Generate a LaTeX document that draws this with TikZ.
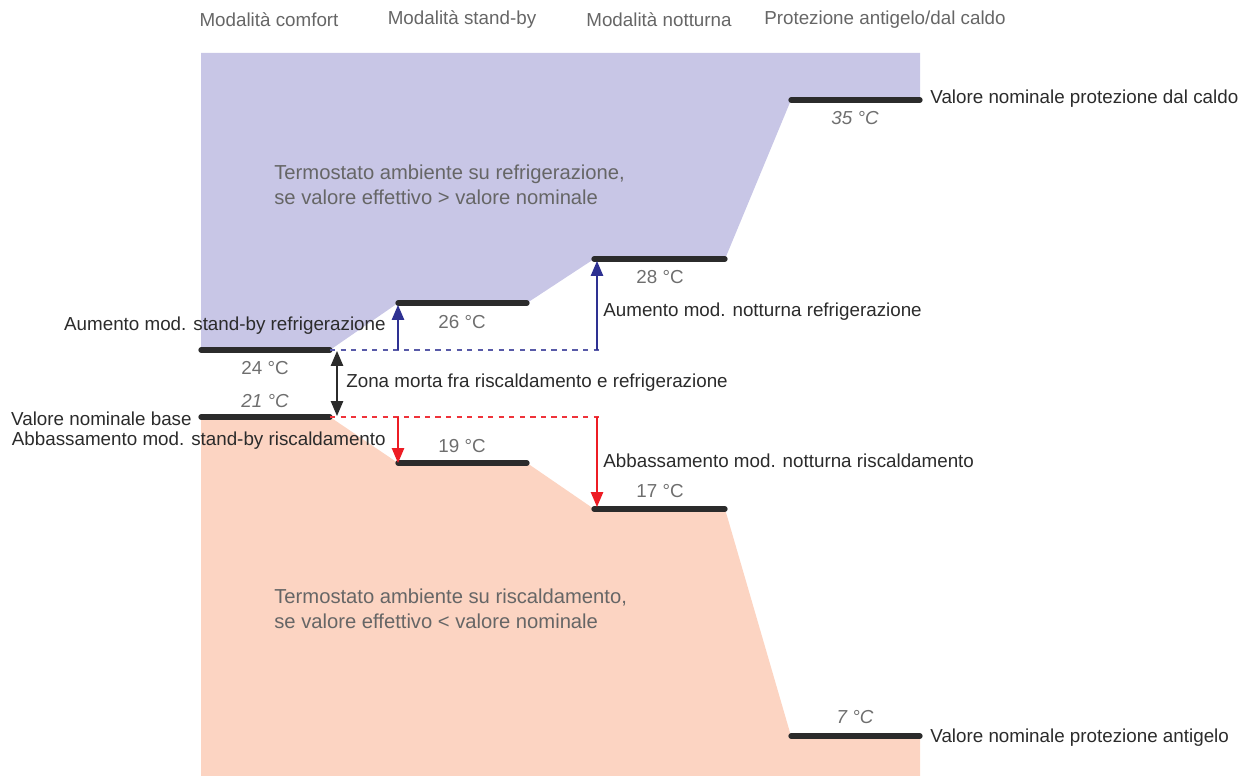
\documentclass[tikz,border=0pt]{standalone}
\usepackage{fontspec}
\setmainfont{Liberation Sans}
\usetikzlibrary{arrows.meta}
\definecolor{coolfill}{HTML}{C8C6E6}
\definecolor{heatfill}{HTML}{FCD4C2}
\definecolor{coolline}{HTML}{2E3192}
\definecolor{heatline}{HTML}{ED1C24}
\definecolor{barcol}{HTML}{2B2B2B}
\definecolor{tempcol}{HTML}{6E6E6E}
\definecolor{headcol}{HTML}{666666}

\begin{document}
\begin{tikzpicture}[x=0.02cm,y=-0.02cm]
\tikzstyle{every node}+=[inner sep=0pt, font=\fontsize{10.7}{13}\selectfont]
\tikzstyle{bar}=[line width=3pt, barcol, line cap=round]
\tikzstyle{temp}=[text=tempcol]
\tikzstyle{head}=[text=headcol]
\tikzstyle{lbl}=[text=barcol]
\tikzstyle{coolarrow}=[coolline, line width=0.9pt, -{Triangle[length=8.5pt,width=7pt]}]
\tikzstyle{heatarrow}=[heatline, line width=0.9pt, -{Triangle[length=8.5pt,width=7pt]}]
\useasboundingbox (0,0) rectangle (1249,776);
% areas
\fill [coolfill] (201,53) -- (920,53) -- (920,100) -- (791,100) -- (725,259) -- (594,259)
  -- (527,303) -- (398,303) -- (330,350) -- (201,350) -- cycle;
\fill [heatfill] (201,417) -- (330,417) -- (398,463) -- (527,463) -- (594,509) -- (725,509)
  -- (791,736) -- (920,736) -- (920,776) -- (201,776) -- cycle;
% set points
\coordinate (comfortC) at (330,350);
\coordinate (comfortH) at (330,417);
\coordinate (standbyC) at (398,305);
\coordinate (standbyH) at (398,463);
\coordinate (nightC) at (597,261);
\coordinate (nightH) at (597,507);
\coordinate (standbyCb) at (398,350);
\coordinate (standbyHb) at (398,417);
\coordinate (nightCb) at (597,350);
\coordinate (nightHb) at (597,417);
\coordinate (deadC) at (337,351);
\coordinate (deadH) at (337,416);
% bars
\draw [bar] (201,350) -- (comfortC);
\draw [bar] (201,417) -- (comfortH);
\draw [bar] (398,303) -- (527,303);
\draw [bar] (398,463) -- (527,463);
\draw [bar] (594,259) -- (725,259);
\draw [bar] (594,509) -- (725,509);
\draw [bar] (791,100) -- (920,100);
\draw [bar] (791,736) -- (920,736);
% dashed base lines
\draw [coolline!80, dashed, line width=0.6pt] (comfortC) -- (602,350);
\draw [heatline!90, dashed, line width=0.6pt] (comfortH) -- (602,417);
% arrows
\draw [coolarrow] (standbyCb) -- (standbyC);
\draw [coolarrow] (nightCb) -- (nightC);
\draw [heatarrow] (standbyHb) -- (standbyH);
\draw [heatarrow] (nightHb) -- (nightH);
\draw [barcol, line width=0.9pt, {Triangle[length=8.5pt,width=7pt]}-{Triangle[length=8.5pt,width=7pt]}] (deadC) -- (deadH);
% headings
\node [head] (hcomfort) at (269,20) {Modalità comfort};
\node [head] (hstandby) at (462,20) {Modalità stand-by};
\node [head] (hnight) at (659,20) {Modalità notturna};
\node [head] (hprot) at (885,20) {Protezione antigelo/dal caldo};
% temperatures
\node [temp] (t24) at (265,368) {24 °C};
\node [temp] (t21) at (265,401) {\itshape 21 °C};
\node [temp] (t26) at (462,322) {26 °C};
\node [temp] (t19) at (462,446) {19 °C};
\node [temp] (t28) at (660,277) {28 °C};
\node [temp] (t17) at (660,491) {17 °C};
\node [temp] (t35) at (855,118) {\itshape 35 °C};
\node [temp] (t7) at (855,717) {\itshape 7 °C};
% labels
\node [lbl, anchor=east] (upsb) at (386,326) {Aumento mod. stand-by refrigerazione};
\node [lbl, anchor=east] (base) at (192,419) {Valore nominale base};
\node [lbl, anchor=east] (downsb) at (386,441) {Abbassamento mod. stand-by riscaldamento};
\node [lbl, anchor=west] (upnight) at (603,312) {Aumento mod. notturna refrigerazione};
\node [lbl, anchor=west] (downnight) at (603,461) {Abbassamento mod. notturna riscaldamento};
\node [lbl, anchor=west] (dead) at (346,383) {Zona morta fra riscaldamento e refrigerazione};
\node [lbl, anchor=west] (hotset) at (930,99) {Valore nominale protezione dal caldo};
\node [lbl, anchor=west] (frostset) at (930,738) {Valore nominale protezione antigelo};
\node [head, anchor=west, align=left, font=\fontsize{11.5}{14.5}\selectfont] (coolarea) at (274,185)
  {Termostato ambiente su refrigerazione,\\se valore effettivo > valore nominale};
\node [head, anchor=west, align=left, font=\fontsize{11.5}{14.5}\selectfont] (heatarea) at (274,609)
  {Termostato ambiente su riscaldamento,\\se valore effettivo < valore nominale};
\end{tikzpicture}
\end{document}
